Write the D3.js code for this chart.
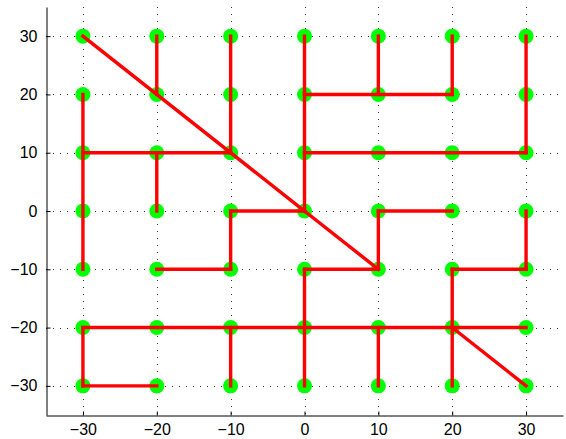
<!DOCTYPE html>
<html>
<head>
<meta charset="utf-8">
<script src="https://cdn.jsdelivr.net/npm/d3@7"></script>
<style>
  html, body { margin: 0; padding: 0; background: #fff; }
  svg { display: block; }
  text { font-family: "Liberation Sans", Arial, Helvetica, sans-serif; font-size: 16px; fill: #000; }
</style>
</head>
<body>
<svg id="chart" width="566" height="439"></svg>
<script>
// Grid node coordinates (every combination of these is a node)
const gridX = [-30, -20, -10, 0, 10, 20, 30];
const gridY = [-30, -20, -10, 0, 10, 20, 30];

// Tick values on both axes
const xTicks = [-30, -20, -10, 0, 10, 20, 30];
const yTicks = [-30, -20, -10, 0, 10, 20, 30];

// Tree edges between nodes: start x, start y, end x, end y
const edgeX1 = [-30,   0, -20, -10,   0, 10, 20,  0, 30, -30, -30, -20,   0, -10, -10, -20, 10, 10, 30, 20, 20,  0,  0, -30, -30, -30, -10,  10, 20];
const edgeY1 = [ 30,   0,  30,  30,  30, 30, 30, 20, 30,  20,  10,  10,  10,   0,   0, -10,-10,  0,  0,-10,-10,-10,-10, -20, -20, -30, -20, -20,-20];
const edgeX2 = [  0,  10, -20, -10,   0, 10, 20, 20, 30, -30, -10, -20,  30,   0, -10, -10, 10, 20, 30, 30, 20, 10,  0,  30, -30, -20, -10,  10, 30];
const edgeY2 = [  0, -10,  20,  10,   0, 20, 20, 20, 10, -10,  10,   0,  10,   0, -10, -10,  0,  0,-10,-10,-30,-10,-30, -20, -30, -30, -30, -30,-30];

const svg = d3.select("#chart");
const margin = { left: 46, top: 7, right: 3, bottom: 24 };
const W = 566, H = 439;

const x = d3.scaleLinear().domain([-35, 35]).range([margin.left, W - margin.right]);
const y = d3.scaleLinear().domain([-35, 35]).range([H - margin.bottom, margin.top]);

// Dotted grid lines
const grid = svg.append("g").attr("stroke", "#333").attr("stroke-width", 1)
  .attr("stroke-dasharray", "1,6");
grid.selectAll("line.gx").data(xTicks).join("line")
  .attr("x1", d => Math.round(x(d)) + 0.5).attr("x2", d => Math.round(x(d)) + 0.5)
  .attr("y1", y(35)).attr("y2", y(-35));
grid.selectAll("line.gy").data(yTicks).join("line")
  .attr("y1", d => Math.round(y(d)) + 0.5).attr("y2", d => Math.round(y(d)) + 0.5)
  .attr("x1", x(-35)).attr("x2", x(35));

// Axes (ticks pointing inward, no box)
const fmt = d => d3.format("")(d).replace("-", "\u2212");
const xAxis = d3.axisBottom(x).tickValues(xTicks).tickSizeInner(-4).tickSizeOuter(0)
  .tickPadding(8.5).tickFormat(fmt);
const yAxis = d3.axisLeft(y).tickValues(yTicks).tickSizeInner(-4).tickSizeOuter(0)
  .tickPadding(9).tickFormat(fmt);

const gx = svg.append("g").attr("transform", `translate(0,${Math.round(y(-35)) + 0.5})`).call(xAxis);
const gy = svg.append("g").attr("transform", `translate(${Math.round(x(-35)) + 0.5},0)`).call(yAxis);
[gx, gy].forEach(g => {
  g.select(".domain").attr("stroke", "#000").attr("stroke-width", 1);
  g.selectAll(".tick line").attr("stroke", "#000");
  g.selectAll(".tick text").style("font-size", "16px")
    .style("font-family", "'Liberation Sans', Arial, Helvetica, sans-serif").attr("fill", "#000");
});

// Nodes
const nodes = [];
gridY.forEach(yy => gridX.forEach(xx => nodes.push({ x: xx, y: yy })));
svg.append("g").selectAll("circle").data(nodes).join("circle")
  .attr("cx", d => x(d.x)).attr("cy", d => y(d.y)).attr("r", 7.5)
  .attr("fill", "#00ff00");

// Edges
const edges = edgeX1.map((v, i) => ({ x1: v, y1: edgeY1[i], x2: edgeX2[i], y2: edgeY2[i] }));
svg.append("g").selectAll("line").data(edges).join("line")
  .attr("x1", d => x(d.x1)).attr("y1", d => y(d.y1))
  .attr("x2", d => x(d.x2)).attr("y2", d => y(d.y2))
  .attr("stroke", "#ff0000").attr("stroke-width", 3.4).attr("stroke-linecap", "square");
</script>
</body>
</html>
